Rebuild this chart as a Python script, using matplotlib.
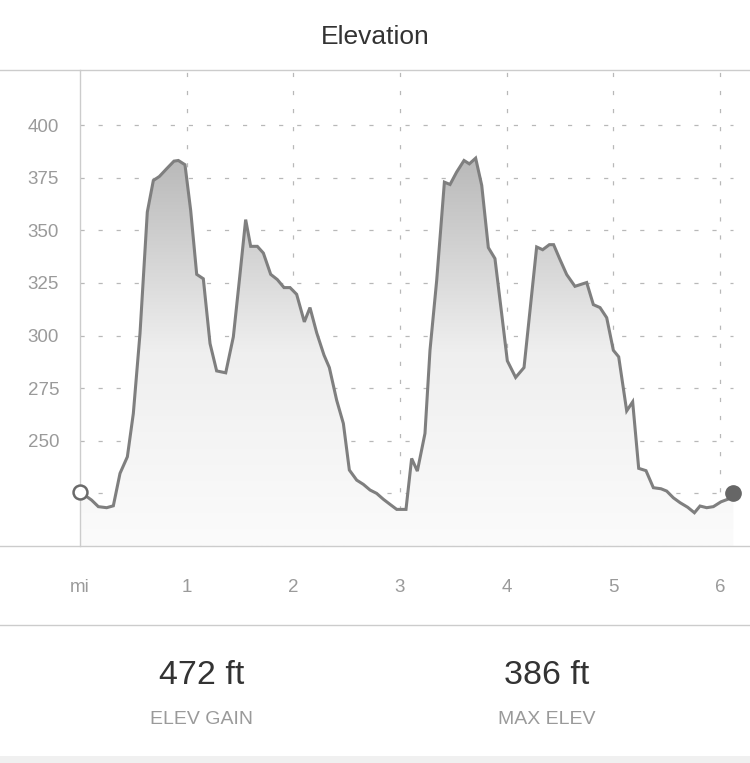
import numpy as np
import matplotlib
matplotlib.use("Agg")
import matplotlib.pyplot as plt
from matplotlib.patches import Polygon, Rectangle
from matplotlib.lines import Line2D

plt.rcParams['font.family'] = ['Liberation Sans', 'DejaVu Sans']
plt.rcParams['lines.scale_dashes'] = False

# distance (mi) and elevation (ft)
dist = [0.0, 0.109, 0.172, 0.25, 0.3125, 0.375, 0.444, 0.5, 0.5625, 0.631,
        0.6875, 0.744, 0.8125, 0.881, 0.922, 0.984, 1.0375, 1.094, 1.156, 1.219,
        1.281, 1.366, 1.4375, 1.494, 1.553, 1.6, 1.6625, 1.719, 1.7875, 1.85,
        1.9125, 1.969, 2.031, 2.103, 2.156, 2.219, 2.2875, 2.3375, 2.406, 2.469,
        2.525, 2.594, 2.656, 2.719, 2.781, 2.844, 2.906, 2.969, 3.056, 3.109,
        3.1625, 3.234, 3.281, 3.344, 3.416, 3.469, 3.531, 3.6, 3.65, 3.709,
        3.766, 3.828, 3.89, 3.953, 4.006, 4.084, 4.1625, 4.281, 4.3375, 4.4,
        4.44, 4.5, 4.5625, 4.64, 4.75, 4.8125, 4.875, 4.9375, 5.0, 5.05,
        5.125, 5.181, 5.2375, 5.306, 5.375, 5.447, 5.5, 5.5625, 5.625, 5.697,
        5.76, 5.8125, 5.875, 5.9375, 6.009, 6.072, 6.125]
elev = [225.8, 221.8, 218.7, 218.2, 219.1, 234.5, 242.4, 263.0, 301.0, 358.7,
        373.7, 375.6, 379.3, 382.9, 383.2, 381.2, 359.5, 329.1, 327.0, 296.2,
        283.2, 282.3, 299.4, 326.3, 355.1, 342.4, 342.4, 339.2, 329.1, 326.6,
        322.8, 322.8, 319.6, 306.5, 313.3, 301.3, 290.7, 284.8, 269.3, 258.2,
        236.1, 231.3, 229.3, 226.6, 225.0, 222.2, 219.8, 217.4, 217.4, 241.6,
        235.6, 253.5, 293.0, 326.3, 372.9, 371.8, 377.7, 383.2, 381.6, 384.3,
        371.4, 341.8, 336.6, 310.4, 288.0, 280.1, 284.8, 342.1, 340.8, 343.2,
        343.2, 336.1, 329.0, 323.4, 325.2, 314.7, 313.3, 308.5, 293.0, 289.9,
        264.2, 268.5, 236.9, 235.8, 227.7, 227.2, 226.1, 222.9, 220.6, 218.4,
        215.8, 219.0, 218.2, 218.7, 221.0, 222.2, 225.3]

y_ticks = [225, 250, 275, 300, 325, 350, 375, 400]
y_labels = ['', '250', '275', '300', '325', '350', '375', '400']
x_ticks = [1, 2, 3, 4, 5, 6]
x_labels = ['1', '2', '3', '4', '5', '6']
stats = ['472 ft', '386 ft']
stat_names = ['ELEV GAIN', 'MAX ELEV']

W, H = 750, 763
fig = plt.figure(figsize=(W / 100, H / 100), dpi=100)
fig.patch.set_facecolor('white')

def fx(px):
    return px / W

def fy(py):
    return 1 - py / H

ax = fig.add_axes([fx(80), fy(546), fx(750) - fx(80), fy(70) - fy(546)])
ymin, ymax = 200, 426.2
ax.set_xlim(0, 6.281)
ax.set_ylim(ymin, ymax)
ax.set_facecolor('none')
for s in ['top', 'right', 'bottom']:
    ax.spines[s].set_visible(False)
ax.spines['left'].set_color('#cccccc')
ax.spines['left'].set_linewidth(1)

grid_col = '#b8b8b8'
dash = (0, (3, 10))
xend = dist[-1]
for yv in y_ticks:
    ax.plot([0, xend], [yv, yv], color=grid_col, lw=0.9, ls=dash, zorder=1)
for xv in x_ticks:
    ax.plot([xv, xv], [ymin, ymax], color=grid_col, lw=0.9, ls=dash, zorder=1)

# gradient fill under the profile
top_e = max(elev)
grad = np.linspace(0, 1, 256).reshape(-1, 1)
cmap = matplotlib.colors.LinearSegmentedColormap.from_list('g', ['#fbfbfb', '#efefef', '#b9b9b9'])
im = ax.imshow(grad, cmap=cmap, aspect='auto', origin='lower',
               extent=[0, xend, ymin, top_e], zorder=2)
poly = Polygon(list(zip(dist, elev)) + [(xend, ymin), (0, ymin)], closed=True,
               facecolor='none', edgecolor='none')
ax.add_patch(poly)
im.set_clip_path(poly)

ax.plot(dist, elev, color='#7f7f7f', lw=2.2, solid_joinstyle='miter', zorder=3)
ax.plot(dist[0], elev[0], 'o', ms=10, mfc='white', mec='#6a6a6a', mew=1.8,
        zorder=4, clip_on=False)
ax.plot(dist[-1], elev[-1], 'o', ms=11, mfc='#666666', mec='#666666',
        zorder=4, clip_on=False)

ax.set_yticks(y_ticks)
ax.set_yticklabels(y_labels)
ax.tick_params(axis='y', length=0, pad=15, labelsize=13.5, labelcolor='#9a9a9a')
ax.set_xticks(x_ticks)
ax.set_xticklabels([])
ax.tick_params(axis='x', direction='in', length=4, color='#c8c8c8', width=1)

tr = ax.get_xaxis_transform()
ax.text(0, -0.087, 'mi', transform=tr, ha='center', va='center', fontsize=13.5, color='#9a9a9a')
for xv, lab in zip(x_ticks, x_labels):
    ax.text(xv, -0.087, lab, transform=tr, ha='center', va='center', fontsize=13.5, color='#9a9a9a')

# separators
for py in [70, 546, 625]:
    fig.add_artist(Line2D([0, 1], [fy(py), fy(py)], color='#cccccc', lw=1))
fig.add_artist(Rectangle((0, 0), 1, fy(756), transform=fig.transFigure,
                         facecolor='#f0f0f0', edgecolor='none'))

fig.text(0.5, fy(37), 'Elevation', ha='center', va='center', fontsize=19, color='#333333')
for cx, val, name in zip([202, 547], stats, stat_names):
    fig.text(fx(cx), fy(676), val, ha='center', va='center', fontsize=24.5, color='#333333')
    fig.text(fx(cx), fy(720), name, ha='center', va='center', fontsize=14, color='#9a9a9a')

fig.savefig('out.png', dpi=100, facecolor='white')
